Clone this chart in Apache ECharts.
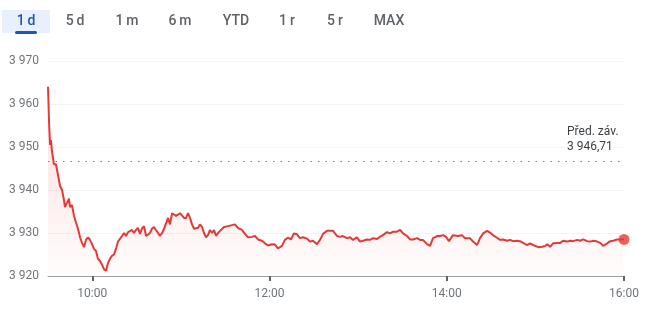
<!DOCTYPE html>
<html>
<head>
<meta charset="utf-8">
<script src="https://cdn.jsdelivr.net/npm/echarts@6/dist/echarts.min.js"></script>
<style>
html,body{margin:0;padding:0;background:#fff;}
#chart{width:650px;height:311px;}
</style>
</head>
<body>
<div id="chart"></div>
<script>
// minutes since 09:30
var minutes = [0,0.7,1.4,2,2.7,4,5.4,6.8,8.1,9.5,10.8,11.5,12.2,14.2,14.9,16.2,17.6,18.9,20.3,21.7,23,24.4,25.7,27.1,28.4,29.8,31.1,32.5,33.8,35.2,36.6,37.9,39.3,40.6,42,43.3,44.7,46,47.4,48.7,50.1,51.5,52.8,54.2,55.5,56.9,58.2,59.6,60.9,62.3,63.6,65,66.4,67.7,69.1,70.4,71.8,73.1,74.5,75.8,77.2,78.6,79.9,81.3,82.6,84,85.3,86.7,88,89.4,90.7,92.1,93.5,94.8,96.2,97.5,98.9,100.2,101.6,102.9,104.3,105.6,107,108.3,109.7,111.1,112.4,113.8,115.1,116.5,117.8,119.2,120.5,121.9,123.2,126.6,128.6,131.3,133.4,135.4,138.1,140.1,142.2,144.9,146.9,149,151.7,153.7,155.7,158.4,160.4,162.5,164.5,166.5,168.6,170.6,172.6,175.3,177.4,179.4,182.1,184.2,186.2,188.9,190.9,193,195.7,197.7,199.7,202.4,204.5,206.5,209.2,211.3,213.3,216,218,220.1,222.8,224.8,226.8,229.5,231.6,233.6,236.3,238.4,240.4,243.1,245.1,247.2,249.9,251.9,253.9,256.6,258.7,260.7,263.4,265.5,267.5,269.5,271.5,274.2,277.6,280.3,282.3,285.7,287.8,290.5,292.5,294.6,297.3,299.3,301.3,304,306.1,308.1,310.8,312.9,314.9,317.6,319.6,321.7,324.4,326.4,328.5,331.9,334.6,336.6,338,340,342,344.7,346.8,348.8,351.5,353.6,355.6,358.3,360.3,362.4,365.1,367.1,369.2,371.9,373.9,375.9,378.6,380.7,382.7,385.4,388.8,390];
var prices = [3964,3956,3950.5,3951.6,3949,3946,3946,3943.5,3941,3940,3937.7,3936,3936,3938,3936,3936.5,3934,3932.5,3931,3929,3927.7,3926.7,3928.4,3929,3928.4,3927.4,3926.3,3925.8,3924,3923.5,3922.6,3921.6,3921.2,3923,3924,3924.7,3925,3926.3,3928,3928.4,3929.3,3930,3929.3,3930.2,3930.2,3930.7,3930,3930.7,3931.2,3929.8,3931,3931.6,3929.3,3929.3,3930,3931,3931.4,3930.7,3930,3929.3,3930,3931,3931,3933.5,3932,3934.6,3935,3934,3933.7,3934.6,3934.9,3933.5,3933.5,3934.6,3933.5,3932,3931,3930.7,3931.2,3932,3931.4,3930,3929,3929.5,3930.7,3930,3930.7,3929.3,3930,3930.5,3930.7,3931.4,3931.2,3931.6,3931.9,3932,3931.2,3930.7,3929.8,3929,3929.1,3929.3,3928.5,3928.2,3927.6,3927.1,3927.4,3927.3,3926.4,3927,3928.4,3928.9,3928.5,3929.9,3929.7,3928.8,3929,3928.7,3928,3928.2,3927.4,3928.4,3929.8,3930.5,3930.5,3930.5,3929.3,3929.1,3929.3,3928.8,3929,3928.4,3929,3928,3928.2,3928.5,3928.4,3928.8,3928.6,3929.1,3929.5,3930.2,3929.9,3930.3,3930.3,3930.7,3929.9,3929.3,3928.5,3928.5,3928.8,3928.4,3928.4,3927.4,3927,3928.8,3929.3,3929.3,3929.5,3929.1,3928.1,3929.5,3929.3,3929.5,3928.8,3928.8,3928,3927.2,3928.8,3929.9,3930.5,3930.1,3929.5,3928.9,3928.4,3928.5,3928.2,3928.4,3928.1,3928.2,3928.1,3927.7,3927.2,3927.6,3927.2,3926.7,3926.8,3927,3927.4,3926.8,3927.6,3927.7,3927.7,3928.2,3928,3928.2,3928.1,3928.4,3928.2,3928.5,3928.1,3928,3928.2,3928,3927.7,3927,3927.6,3928.1,3928.2,3928.5,3928.5,3928.5];
var prevClose = 3946.71;
var prevCloseLabel = 'Před. záv.';
var tabs = ['1 d','5 d','1 m','6 m','YTD','1 r','5 r','MAX'];
var tabCenters = [26,75,127,180,236,287,335,389];
var xTickMinutes = [30,150,270,390];
var yMin = 3920, yMax = 3970, yStep = 10;

function fmtNum(v, dec){
  var s = v.toFixed(dec).split('.');
  var i = s[0].replace(/\B(?=(\d{3})+(?!\d))/g, ' ');
  return s.length > 1 ? i + ',' + s[1] : i;
}
function fmtTime(m){
  var t = 570 + m;
  var h = Math.floor(t/60), mm = t % 60;
  return h + ':' + (mm < 10 ? '0' : '') + mm;
}

var lineData = minutes.map(function(m,i){ return [m, prices[i]]; });
var lastPoint = [minutes[minutes.length-1], prices[prices.length-1]];

var graphics = [
  {type:'rect', shape:{x:2,y:10,width:48,height:23}, style:{fill:'#e8f0fe'}},
  {type:'rect', shape:{x:15,y:31,width:22,height:3,r:1.5}, style:{fill:'#1a57b8'}}
];
tabs.forEach(function(t,i){
  graphics.push({type:'text', x:tabCenters[i], y:21, style:{
    text: t.replace(' ', '\u2009'), fill: i===0 ? '#1a57b8' : '#5f6368',
    font: '500 14px Roboto', textAlign:'center', textVerticalAlign:'middle'
  }});
});
graphics.push({type:'text', x:566, y:132, z:10, style:{text:prevCloseLabel, fill:'#3c4043', font:'12px Roboto', textAlign:'left', textVerticalAlign:'middle', backgroundColor:'#fff', padding:[0,1]}});
graphics.push({type:'text', x:566, y:147, z:10, style:{text:fmtNum(prevClose,2), fill:'#3c4043', font:'12px Roboto', textAlign:'left', textVerticalAlign:'middle', backgroundColor:'#fff', padding:[0,1]}});

var chart = echarts.init(document.getElementById('chart'), null, {renderer:'canvas'});
chart.setOption({
  animation:false,
  backgroundColor:'#fff',
  grid:{left:48, right:26, top:61, bottom:35, containLabel:false},
  xAxis:{
    type:'value', min:0, max:390,
    axisLine:{show:true, lineStyle:{color:'#9aa0a6', width:1}},
    axisTick:{show:true, customValues:xTickMinutes, length:5, lineStyle:{color:'#5f6368', width:2}},
    axisLabel:{customValues:xTickMinutes, formatter:function(v){return fmtTime(v);}, color:'#70757a', fontSize:12, fontFamily:'Roboto', margin:12},
    splitLine:{show:false}
  },
  yAxis:{
    type:'value', min:yMin, max:yMax, interval:yStep,
    axisLine:{show:false}, axisTick:{show:false},
    axisLabel:{formatter:function(v){return fmtNum(v,0);}, color:'#70757a', fontSize:12, fontFamily:'Roboto', margin:9},
    splitLine:{lineStyle:{color:'#f1f3f4', width:1}}
  },
  graphic: graphics,
  series:[
    {
      type:'line', data:lineData, showSymbol:false, symbol:'none',
      lineStyle:{color:'#e53935', width:2},
      areaStyle:{origin:'start', color:new echarts.graphic.LinearGradient(0,0,0,1,[
        {offset:0, color:'rgba(234,67,53,0.25)'},
        {offset:1, color:'rgba(234,67,53,0.02)'}
      ])},
      markLine:{
        silent:true, symbol:'none', label:{show:false},
        lineStyle:{color:'#80868b', type:[1.5,6], width:1.2},
        data:[{yAxis:prevClose}]
      }
    },
    {
      type:'scatter', data:[lastPoint], symbol:'circle', symbolSize:11,
      itemStyle:{color:'#e53935'}, z:5
    }
  ]
});
</script>
</body>
</html>
